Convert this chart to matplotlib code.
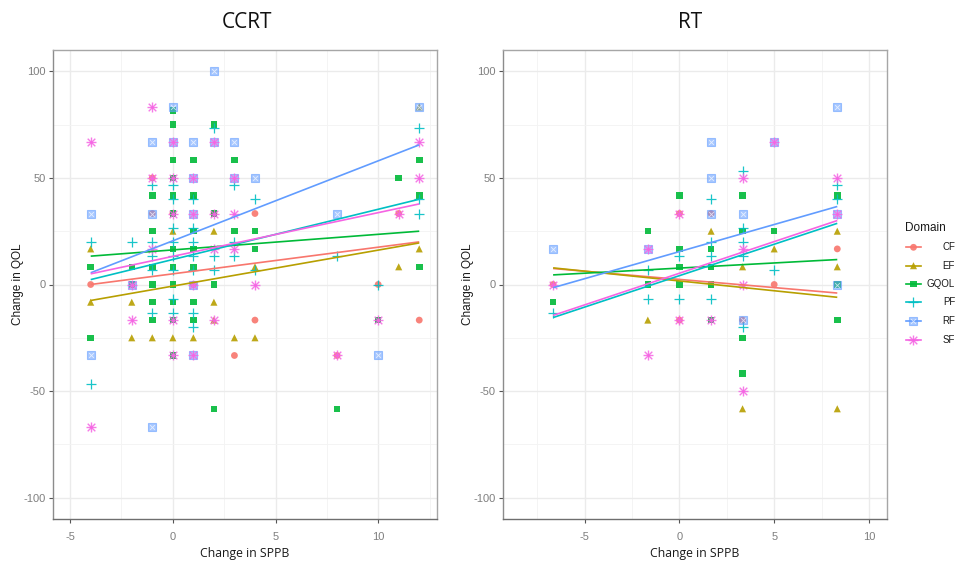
import matplotlib
matplotlib.use("Agg")
import matplotlib.pyplot as plt
import numpy as np

plt.rcParams["axes.unicode_minus"] = False

# ---------------- data ----------------
domains = ["CF", "EF", "GQOL", "PF", "RF", "SF"]
colors = ["#F8766D", "#B79F00", "#00BA38", "#00BFC4", "#619CFF", "#F564E3"]

# CCRT panel points (x = change in SPPB, y = change in QOL)
ccrt_CF_x = [-4, -1, 0, 2, 3, 4, 4, 8, 10, 11, 12, -1, 1]
ccrt_CF_y = [0, 33.3, 33.3, 33.3, -33.3, 33.3, -16.7, -33.3, 0, 33.3, -16.7, 50, 0]
ccrt_EF_x = [-4, -4, -2, -2, -1, 0, 0, 1, 1, 2, 2, 2, 3, 4, 4, 11, 12, 12]
ccrt_EF_y = [16.7, -8.3, -8.3, -25, -25, 25, -25, 41.7, -25, 25, -8.3, -16.7, -25, -25, 8.3, 8.3, 83.3, 16.7]
ccrt_GQOL_x = [-4, -4, -2, -2, -1, -1, -1, -1, -1, -1, 0, 0, 0, 0, 0, 0, 0, 0, 0, 0, 0, 0,
               1, 1, 1, 1, 1, 1, 1, 2, 2, 2, 2, 3, 3, 4, 4, 8, 10, 11, 12, 12, 12]
ccrt_GQOL_y = [8.3, -25, 8.3, 0, 41.7, 25, 8.3, 0, -8.3, -16.7, 81.7, 75, 58.3, 50, 41.7, 33.3, 16.7, 8.3, 0, -8.3, -16.7, -33.3,
               58.3, 41.7, 25, 16.7, 8.3, -8.3, -16.7, 75, 33.3, 0, -58.3, 58.3, 25, 25, 16.7, -58.3, -16.7, 50, 58.3, 41.7, 8.3]
ccrt_PF_x = [-4, -4, -2, -1, -1, -1, -1, -1, 0, 0, 0, 0, 0, 0, 0, 0, 1, 1, 1, 1, 1, 1, 1,
             2, 2, 2, 3, 3, 3, 4, 4, 8, 10, 12, 12, 12]
ccrt_PF_y = [20, -46.7, 20, 46.7, 20, 13.3, 6.7, -13.3, 46.7, 40, 26.7, 20, 13.3, 6.7, -6.7, -13.3, 40, 26.7, 20, 13.3, 6.7, -13.3, -20,
             73.3, 13.3, 6.7, 46.7, 20, 13.3, 40, 6.7, 13.3, 0, 73.3, 40, 33.3]
ccrt_RF_x = [-4, -4, -2, -1, -1, -1, 0, 0, 1, 1, 1, 1, 1, 2, 2, 3, 3, 4, 8, 10, 12]
ccrt_RF_y = [33.3, -33.3, 0, 66.7, 33.3, -66.7, 83.3, 66.7, 66.7, 50, 33.3, 0, -33.3, 100, 66.7, 66.7, 50, 50, 33.3, -33.3, 83.3]
ccrt_SF_x = [-4, -4, -2, -2, -1, -1, -1, 0, 0, 0, 0, 0, 1, 1, 1, 1, 2, 2, 2, 2, 3, 3, 3, 4, 8, 10, 11, 12, 12]
ccrt_SF_y = [66.7, -66.7, 0, -16.7, 83.3, 50, 16.7, 66.7, 50, 33.3, -16.7, -33.3, 50, 33.3, 0, -33.3, 66.7, 33.3, 16.7, -16.7,
             50, 33.3, 16.7, 0, -33.3, -16.7, 33.3, 66.7, 50]

# RT panel points
rt_CF_x = [-6.67, 0, 0, 1.67, 3.33, 5, 8.33]
rt_CF_y = [0, 33.3, -16.7, 33.3, -16.7, 0, 16.7]
rt_EF_x = [-1.67, 1.67, 3.33, 3.33, 5, 8.33, 8.33, 8.33]
rt_EF_y = [-16.7, 25, 8.3, -58.3, 16.7, 25, 8.3, -58.3]
rt_GQOL_x = [-6.67, -1.67, -1.67, 0, 0, 0, 0, 1.67, 1.67, 1.67, 1.67, 3.33, 3.33, 3.33, 3.33, 5, 8.33, 8.33, 8.33]
rt_GQOL_y = [-8.3, 25, 0, 41.7, 16.7, 8.3, 0, 16.7, 8.3, 0, -16.7, 41.7, 25, -25, -41.7, 25, 41.7, 0, -16.7]
rt_PF_x = [-6.67, -1.67, -1.67, 0, 0, 1.67, 1.67, 1.67, 1.67, 3.33, 3.33, 3.33, 3.33, 3.33, 5, 8.33, 8.33]
rt_PF_y = [-13.3, 6.7, -6.7, 13.3, -6.7, 40, 20, 13.3, -6.7, 53.3, 26.7, 20, 13.3, -20, 6.7, 46.7, 40]
rt_RF_x = [-6.67, -1.67, 1.67, 1.67, 1.67, 3.33, 3.33, 5, 8.33, 8.33, 8.33]
rt_RF_y = [16.7, 16.7, 66.7, 50, 33.3, 33.3, -16.7, 66.7, 83.3, 33.3, 0]
rt_SF_x = [-6.67, -1.67, -1.67, 0, 0, 1.67, 3.33, 3.33, 3.33, 3.33, 5, 8.33, 8.33]
rt_SF_y = [0, 16.7, -33.3, 33.3, -16.7, -16.7, 50, 16.7, 0, -50, 66.7, 50, 33.3]

# fitted (lm) lines: value at start / end of x range, per domain
ccrt_fit_x = [-4, 12]
ccrt_fit_start = [0, -7.5, 13.3, 2.3, 5.5, 5.0]
ccrt_fit_end = [20, 19.5, 25, 40, 65.5, 37.8]
rt_fit_x = [-6.67, 8.33]
rt_fit_start = [7.5, 7.8, 4.5, -15.5, -1.5, -14.5]
rt_fit_end = [-4.0, -6.0, 11.7, 28.7, 36.6, 30.0]

x_ticks = [-5, 0, 5, 10]
y_ticks = [-100, -50, 0, 50, 100]

ccrt = {"CF": (ccrt_CF_x, ccrt_CF_y), "EF": (ccrt_EF_x, ccrt_EF_y), "GQOL": (ccrt_GQOL_x, ccrt_GQOL_y),
        "PF": (ccrt_PF_x, ccrt_PF_y), "RF": (ccrt_RF_x, ccrt_RF_y), "SF": (ccrt_SF_x, ccrt_SF_y)}
rt = {"CF": (rt_CF_x, rt_CF_y), "EF": (rt_EF_x, rt_EF_y), "GQOL": (rt_GQOL_x, rt_GQOL_y),
      "PF": (rt_PF_x, rt_PF_y), "RF": (rt_RF_x, rt_RF_y), "SF": (rt_SF_x, rt_SF_y)}

# ---------------- figure ----------------
W, H = 956, 561
fig = plt.figure(figsize=(W / 100, H / 100), dpi=100)
fig.patch.set_facecolor("white")


def px_rect(l, t, r, b):
    return [l / W, 1 - b / H, (r - l) / W, (b - t) / H]


ax1 = fig.add_axes(px_rect(52.7, 50, 436.7, 519))
ax2 = fig.add_axes(px_rect(502.7, 50, 887.3, 519))

marker_style = {"CF": dict(marker="o", s=24), "EF": dict(marker="^", s=26), "GQOL": dict(marker="s", s=22)}


def draw_marker(ax, dom, x, y, col, z=3):
    x = np.asarray(x, float)
    y = np.asarray(y, float)
    if dom == "RF":
        ax.scatter(x, y, marker="s", s=28, facecolors=col, edgecolors=col, linewidths=0.8, alpha=0.55, zorder=z)
        ax.scatter(x, y, marker="x", s=12, c="white", linewidths=0.6, alpha=0.7, zorder=z)
    elif dom == "SF":
        ax.scatter(x, y, marker="+", s=42, c=col, linewidths=1.0, alpha=0.85, zorder=z)
        ax.scatter(x, y, marker="x", s=30, c=col, linewidths=1.0, alpha=0.85, zorder=z)
    elif dom == "PF":
        ax.scatter(x, y, marker="+", s=62, c=col, linewidths=0.9, alpha=0.9, zorder=z)
    else:
        st = marker_style[dom]
        ax.scatter(x, y, c=col, edgecolors="none", alpha=0.9, zorder=z, **st)


def style_axes(ax, xlim, title, title_x):
    ax.set_xticks(x_ticks)
    ax.set_yticks(y_ticks)
    ax.set_xticks([t + 2.5 for t in x_ticks[:-1]] + [x_ticks[0] - 2.5, x_ticks[-1] + 2.5], minor=True)
    ax.set_yticks([-75, -25, 25, 75], minor=True)
    ax.set_xlim(*xlim)
    ax.set_ylim(-110, 110)
    ax.grid(True, which="major", color="#EBEBEB", lw=1.0, zorder=0)
    ax.grid(True, which="minor", color="#F3F3F3", lw=0.6, zorder=0)
    ax.set_axisbelow(True)
    for sp in ax.spines.values():
        sp.set_color("#A6A6A6")
        sp.set_linewidth(1.0)
    ax.spines["left"].set_color("#8C8C8C")
    ax.spines["bottom"].set_color("#6E6E6E")
    ax.tick_params(which="major", length=3, width=0.8, color="#555555", labelcolor="#7F7F7F",
                   labelsize=8, pad=2)
    ax.tick_params(which="minor", length=0)
    ax.tick_params(axis="x", pad=6)
    for lab in ax.get_xticklabels() + ax.get_yticklabels():
        lab.set_family("Liberation Sans")
    pos = ax.get_position()
    xc = (pos.x0 + pos.x1) / 2
    fig.text(xc, 1 - 553 / H, "Change in SPPB", ha="center", va="center", family="Open Sans",
             fontsize=8.8, color="#1A1A1A")
    fig.text((pos.x0 * W - 35) / W, (pos.y0 + pos.y1) / 2, "Change in QOL", ha="center", va="center",
             rotation=90, family="Liberation Sans", fontsize=8.5, color="#1A1A1A")
    fig.text(title_x / W, 1 - 23 / H, title, ha="center", va="center", family="Open Sans",
             fontsize=15, color="#111111")


for ax, data, fx, fs, fe in [(ax1, ccrt, ccrt_fit_x, ccrt_fit_start, ccrt_fit_end),
                             (ax2, rt, rt_fit_x, rt_fit_start, rt_fit_end)]:
    for i, dom in enumerate(domains):
        x, y = data[dom]
        draw_marker(ax, dom, x, y, colors[i])
    for i, dom in enumerate(domains):
        ax.plot(fx, [fs[i], fe[i]], color=colors[i], lw=1.2, zorder=4, solid_capstyle="butt")

style_axes(ax1, (-5.85, 12.85), "CCRT", 247)
style_axes(ax2, (-9.33, 10.97), "RT", 690)

# ---------------- legend (manual, ggplot-like) ----------------
fig.text(905 / W, 1 - 228 / H, "Domain", ha="left", va="center", family="Liberation Sans",
         fontsize=8.5, color="#1A1A1A")
key_y = [247.3, 265.7, 284, 302.3, 320.7, 340]
lax = fig.add_axes([0, 0, 1, 1], facecolor="none")
lax.set_xlim(0, W)
lax.set_ylim(H, 0)
lax.axis("off")
for i, dom in enumerate(domains):
    yk = key_y[i]
    lax.plot([906, 921], [yk, yk], color=colors[i], lw=1.2, zorder=4)
    draw_marker(lax, dom, [913.5], [yk], colors[i], z=5)
    fig.text(955 / W, 1 - yk / H, dom, ha="right", va="center", family="Liberation Sans",
             fontsize=7, color="#1A1A1A")

fig.savefig("out.png", dpi=100, facecolor="white")
